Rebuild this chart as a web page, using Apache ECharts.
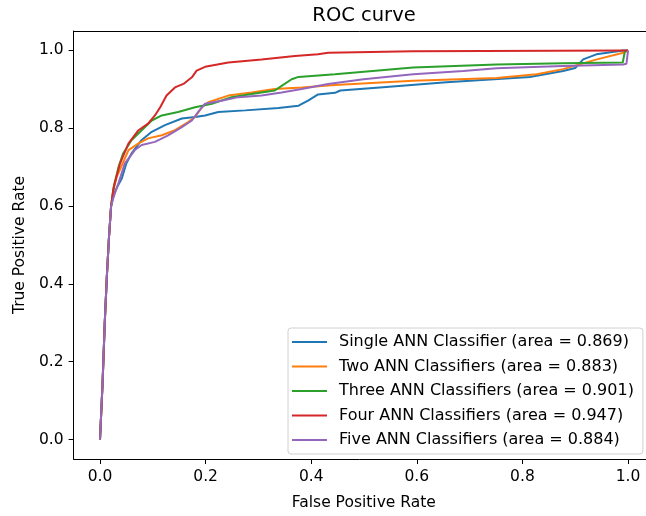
<!DOCTYPE html>
<html>
<head>
<meta charset="utf-8">
<script src="https://cdn.jsdelivr.net/npm/echarts@6/dist/echarts.min.js"></script>
<style>
  html, body { margin: 0; padding: 0; background: #fff; }
  #chart { width: 646px; height: 516px; }
</style>
</head>
<body>
<div id="chart"></div>
<script>
const seriesNames = [
  'Single ANN Classifier (area = 0.869)',
  'Two ANN Classifiers (area = 0.883)',
  'Three ANN Classifiers (area = 0.901)',
  'Four ANN Classifiers (area = 0.947)',
  'Five ANN Classifiers (area = 0.884)'
];
const xTicks = [0, 0.2, 0.4, 0.6, 0.8, 1.0];
const yTicks = [0, 0.2, 0.4, 0.6, 0.8, 1.0];

const singleFpr = [0, 0.005, 0.009, 0.013, 0.017, 0.021, 0.026, 0.033, 0.041, 0.05, 0.06, 0.079, 0.098, 0.123, 0.155, 0.18, 0.199, 0.224, 0.275, 0.338, 0.376, 0.394, 0.413, 0.445, 0.455, 0.53, 0.656, 0.814, 0.877, 0.9, 0.915, 0.94, 0.991, 1];
const singleTpr = [0, 0.15, 0.3, 0.42, 0.52, 0.6, 0.63, 0.65, 0.67, 0.71, 0.736, 0.77, 0.791, 0.808, 0.825, 0.829, 0.833, 0.842, 0.846, 0.852, 0.858, 0.871, 0.887, 0.891, 0.897, 0.905, 0.918, 0.932, 0.947, 0.955, 0.977, 0.99, 1.0, 1];

const twoFpr = [0, 0.005, 0.009, 0.013, 0.017, 0.021, 0.025, 0.032, 0.054, 0.073, 0.091, 0.117, 0.142, 0.167, 0.18, 0.193, 0.205, 0.243, 0.287, 0.331, 0.382, 0.445, 0.593, 0.751, 0.827, 0.877, 0.941, 0.991, 1];
const twoTpr = [0, 0.15, 0.3, 0.42, 0.52, 0.6, 0.64, 0.676, 0.744, 0.761, 0.774, 0.782, 0.795, 0.816, 0.829, 0.854, 0.867, 0.884, 0.892, 0.901, 0.905, 0.911, 0.922, 0.929, 0.939, 0.952, 0.977, 0.994, 1];

const threeFpr = [0, 0.005, 0.009, 0.013, 0.017, 0.021, 0.026, 0.035, 0.044, 0.06, 0.079, 0.098, 0.117, 0.148, 0.18, 0.212, 0.249, 0.287, 0.331, 0.344, 0.363, 0.376, 0.445, 0.593, 0.751, 0.877, 0.99, 0.994, 1];
const threeTpr = [0, 0.15, 0.3, 0.42, 0.52, 0.6, 0.65, 0.7, 0.736, 0.77, 0.795, 0.82, 0.833, 0.842, 0.854, 0.863, 0.88, 0.888, 0.897, 0.909, 0.926, 0.932, 0.939, 0.956, 0.964, 0.967, 0.969, 0.998, 1];

const fourFpr = [0, 0.005, 0.009, 0.013, 0.017, 0.021, 0.025, 0.028, 0.038, 0.054, 0.073, 0.091, 0.104, 0.114, 0.126, 0.142, 0.158, 0.174, 0.183, 0.199, 0.243, 0.306, 0.369, 0.413, 0.432, 0.593, 0.99, 1];
const fourTpr = [0, 0.15, 0.3, 0.42, 0.52, 0.6, 0.64, 0.66, 0.71, 0.761, 0.795, 0.812, 0.833, 0.854, 0.884, 0.905, 0.914, 0.931, 0.948, 0.958, 0.969, 0.977, 0.986, 0.99, 0.994, 0.998, 1.0, 1];

const fiveFpr = [0, 0.005, 0.009, 0.013, 0.017, 0.021, 0.025, 0.03, 0.035, 0.047, 0.066, 0.079, 0.104, 0.129, 0.155, 0.174, 0.186, 0.199, 0.23, 0.262, 0.306, 0.344, 0.382, 0.432, 0.499, 0.593, 0.688, 0.751, 0.877, 0.991, 0.997, 1];
const fiveTpr = [0, 0.15, 0.3, 0.42, 0.52, 0.6, 0.62, 0.64, 0.659, 0.71, 0.744, 0.757, 0.765, 0.782, 0.803, 0.82, 0.842, 0.863, 0.871, 0.88, 0.884, 0.892, 0.901, 0.914, 0.926, 0.939, 0.947, 0.954, 0.96, 0.964, 0.966, 1];

const colors = ['#1f77b4', '#ff7f0e', '#2ca02c', '#d62728', '#9467bd'];
const fprs = [singleFpr, twoFpr, threeFpr, fourFpr, fiveFpr];
const tprs = [singleTpr, twoTpr, threeTpr, fourTpr, fiveTpr];

// visible x-range: the figure is cropped at the right edge of the canvas
const X_MIN = -0.05, X_MAX = 1.034;
const Y_MIN = -0.05, Y_MAX = 1.05;

const FONT = 'DejaVu Sans';
const chart = echarts.init(document.getElementById('chart'), null, { renderer: 'canvas' });

const series = seriesNames.map((name, i) => ({
  name: name,
  type: 'line',
  data: fprs[i].map((x, j) => [x, tprs[i][j]]),
  showSymbol: false,
  symbol: 'none',
  lineStyle: { width: 2, color: colors[i] },
  itemStyle: { color: colors[i] },
  animation: false
}));

chart.setOption({
  animation: false,
  backgroundColor: '#fff',
  title: {
    text: 'ROC curve',
    left: 359,
    textAlign: 'center',
    top: 1,
    textStyle: { fontFamily: FONT, fontSize: 19.5, fontWeight: 'normal', color: '#000' }
  },
  grid: {
    left: 73.6, right: 0, top: 31, bottom: 52.3,
    show: false,
    containLabel: false
  },
  legend: {
    orient: 'vertical',
    left: 288, top: 328,
    padding: [6, 9, 6, 4],
    itemGap: 8.5,
    itemWidth: 35, itemHeight: 2,
    icon: 'rect',
    backgroundColor: 'rgba(255,255,255,0.8)',
    borderColor: '#d0d0d0', borderWidth: 1, borderRadius: 3,
    textStyle: { fontFamily: FONT, fontSize: 16, color: '#000', lineHeight: 16, padding: [0, 0, 0, 7] },
    data: seriesNames
  },
  xAxis: [{
    type: 'value',
    min: X_MIN, max: X_MAX,
    position: 'bottom',
    name: 'False Positive Rate',
    nameLocation: 'middle',
    nameGap: 36,
    nameTextStyle: { fontFamily: FONT, fontSize: 15.5, color: '#000', padding: [0, 0, 0, 8] },
    splitLine: { show: false },
    axisLine: { show: true, onZero: false, lineStyle: { color: '#000', width: 1 } },
    axisTick: { show: true, inside: false, length: 5, customValues: xTicks, lineStyle: { color: '#000' } },
    axisLabel: { customValues: xTicks, margin: 10, fontFamily: FONT, fontSize: 15.5, color: '#000',
      formatter: v => v.toFixed(1) }
  }, {
    type: 'value',
    min: X_MIN, max: X_MAX,
    position: 'top',
    splitLine: { show: false },
    axisLine: { show: true, onZero: false, lineStyle: { color: '#000', width: 1 } },
    axisTick: { show: false },
    axisLabel: { show: false }
  }],
  yAxis: {
    type: 'value',
    min: Y_MIN, max: Y_MAX,
    name: 'True Positive Rate',
    nameLocation: 'middle',
    nameGap: 46,
    nameRotate: 90,
    nameTextStyle: { fontFamily: FONT, fontSize: 15.5, color: '#000' },
    splitLine: { show: false },
    axisLine: { show: true, onZero: false, lineStyle: { color: '#000', width: 1 } },
    axisTick: { show: true, inside: false, length: 5, customValues: yTicks, lineStyle: { color: '#000' } },
    axisLabel: { customValues: yTicks, margin: 10, fontFamily: FONT, fontSize: 15.5, color: '#000',
      formatter: v => v.toFixed(1) }
  },
  series: series
});
</script>
</body>
</html>
